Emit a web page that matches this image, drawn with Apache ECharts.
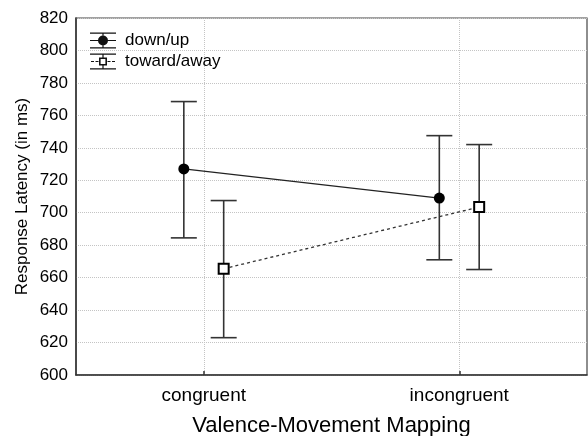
<!DOCTYPE html>
<html>
<head>
<meta charset="utf-8">
<script src="https://cdn.jsdelivr.net/npm/echarts@6/dist/echarts.min.js"></script>
<style>html,body{margin:0;padding:0;background:#fff}#c{width:588px;height:436px}</style>
</head>
<body>
<div id="c"></div>
<script>
// ---- data ----
var categories = ['congruent', 'incongruent'];
var seriesNames = ['down/up', 'toward/away'];
var downUpMean = [727, 709];
var downUpLow = [684.5, 671];
var downUpHigh = [768.5, 747.5];
var towardMean = [665.5, 703.5];
var towardLow = [623, 665];
var towardHigh = [707.5, 742];
var yTicks = [600, 620, 640, 660, 680, 700, 720, 740, 760, 780, 800, 820];

// ---- build ----
var OFFSET = 0.078; // horizontal dodge (in category units)
function pts(mean, off) { return mean.map(function (v, i) { return [i + 1 + off, v]; }); }
function bars(low, high, off) { return low.map(function (v, i) { return [i + 1 + off, v, high[i]]; }); }

var FONT = '"Liberation Sans", Arial, sans-serif';
var iconDown = 'path://M0 0H26V1.2H0Z M0 14.8H26V16H0Z M12.4 0H13.6V16H12.4Z M0 7.4H26V8.6H0Z M8 8A5 5 0 1 1 18 8A5 5 0 1 1 8 8Z';
var iconToward = 'path://M0 0H26V1.2H0Z M0 14.8H26V16H0Z M12.4 0H13.6V4H12.4Z M12.4 12H13.6V16H12.4Z M9 4H17V12H9Z M10.6 5.6V10.4H15.4V5.6Z M1 7.4H4V8.6H1Z M5.5 7.4H8.5V8.6H5.5Z M17.5 7.4H20.5V8.6H17.5Z M22 7.4H25V8.6H22Z';

function errRender(params, api) {
  var x = api.value(0);
  var lo = api.coord([x, api.value(1)]);
  var hi = api.coord([x, api.value(2)]);
  var w = 13;
  var st = { stroke: '#333', lineWidth: 1.6 };
  return {
    type: 'group',
    children: [
      { type: 'line', shape: { x1: hi[0], y1: hi[1], x2: lo[0], y2: lo[1] }, style: st },
      { type: 'line', shape: { x1: hi[0] - w, y1: hi[1], x2: hi[0] + w, y2: hi[1] }, style: st },
      { type: 'line', shape: { x1: lo[0] - w, y1: lo[1], x2: lo[0] + w, y2: lo[1] }, style: st }
    ]
  };
}

var chart = echarts.init(document.getElementById('c'), null, { renderer: 'canvas' });
chart.setOption({
  animation: false,
  backgroundColor: '#fff',
  textStyle: { fontFamily: FONT },
  grid: { left: 76, right: 1, top: 18, bottom: 61, containLabel: false, outerBoundsMode: 'none',
          show: true, borderColor: '#444', borderWidth: 1.2 },
  legend: {
    orient: 'vertical', left: 85, top: 27, itemWidth: 26, itemHeight: 16, itemGap: 4,
    textStyle: { fontSize: 17, color: '#000', fontFamily: FONT, lineHeight: 16, padding: [0, 0, 0, 4] },
    data: [
      { name: seriesNames[0], icon: iconDown, itemStyle: { color: '#111', borderWidth: 0 } },
      { name: seriesNames[1], icon: iconToward, itemStyle: { color: '#111', borderWidth: 0 } }
    ]
  },
  xAxis: [
    {
      type: 'category', data: categories, boundaryGap: true, position: 'bottom',
      name: 'Valence-Movement Mapping', nameLocation: 'middle', nameGap: 40, nameMoveOverlap: false,
      nameTextStyle: { fontSize: 22, color: '#000', fontFamily: FONT },
      axisLine: { lineStyle: { color: '#333', width: 1.5 } },
      axisTick: { show: true, inside: true, alignWithLabel: true, length: 4, lineStyle: { color: '#333', width: 1.5 } },
      axisLabel: { fontSize: 19, color: '#000', margin: 11, fontFamily: FONT },
      splitLine: { show: false }
    },
    {
      type: 'value', min: 0.5, max: 2.5, interval: 0.5, position: 'top',
      axisLine: { show: false }, axisTick: { show: false }, axisLabel: { show: false },
      splitLine: { show: true, lineStyle: { color: ['rgba(0,0,0,0)', '#c4c4c4'], type: 'dotted', width: 1 } }
    }
  ],
  yAxis: {
    type: 'value', min: yTicks[0], max: yTicks[yTicks.length - 1], interval: 20,
    name: 'Response Latency (in ms)', nameLocation: 'middle', nameGap: 45, nameMoveOverlap: false,
    nameTextStyle: { fontSize: 17, color: '#000', fontFamily: FONT },
    axisLine: { show: true, lineStyle: { color: '#333', width: 1.5 } },
    axisTick: { show: false },
    axisLabel: { fontSize: 17, color: '#000', margin: 8, fontFamily: FONT },
    splitLine: { show: true, lineStyle: { color: '#c4c4c4', type: 'dotted', width: 1 } }
  },
  series: [
    {
      name: seriesNames[0] + ' err', type: 'custom', xAxisIndex: 1, renderItem: errRender,
      data: bars(downUpLow, downUpHigh, -OFFSET), z: 2, silent: true
    },
    {
      name: seriesNames[1] + ' err', type: 'custom', xAxisIndex: 1, renderItem: errRender,
      data: bars(towardLow, towardHigh, OFFSET), z: 2, silent: true
    },
    {
      name: seriesNames[0], type: 'line', xAxisIndex: 1, data: pts(downUpMean, -OFFSET),
      symbol: 'circle', symbolSize: 11, itemStyle: { color: '#000' },
      lineStyle: { color: '#222', width: 1.3 }, z: 3
    },
    {
      name: seriesNames[1], type: 'line', xAxisIndex: 1, data: pts(towardMean, OFFSET),
      symbol: 'rect', symbolSize: 10, itemStyle: { color: '#fff', borderColor: '#000', borderWidth: 2 },
      lineStyle: { color: '#333', width: 1.3, type: [3, 3] }, z: 3
    }
  ]
});
</script>
</body>
</html>
